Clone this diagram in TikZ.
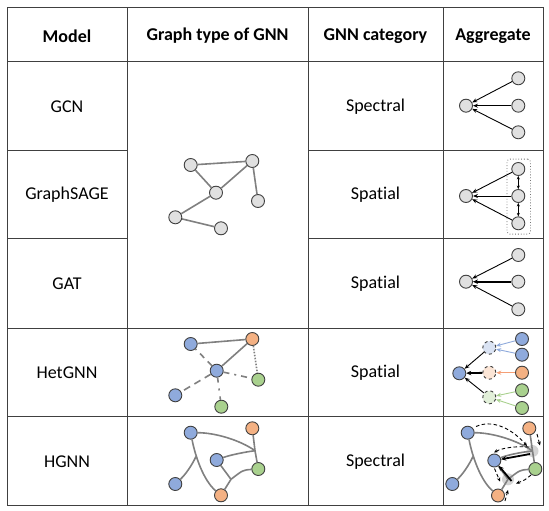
\documentclass[tikz,border=0pt]{standalone}
\usepackage{fontspec}
\setmainfont{Carlito}[Ligatures=NoCommon]
\usetikzlibrary{arrows.meta}
\definecolor{nblue}{HTML}{8FAADC}
\definecolor{norange}{HTML}{F4B183}
\definecolor{ngreen}{HTML}{A9D18E}
\definecolor{lblue}{HTML}{DAE3F3}
\definecolor{lorange}{HTML}{FBE5D6}
\definecolor{lgreen}{HTML}{E2F0D9}
\definecolor{tline}{HTML}{404040}
\definecolor{edgegray}{HTML}{808080}
\definecolor{ngray}{HTML}{E0E0E0}
\tikzset{
  tableline/.style={draw=tline, line width=1pt},
  cell/.style={font=\fontsize{18}{20}\selectfont, inner sep=0pt},
  head/.style={cell, font=\fontsize{18}{20}\selectfont\bfseries},
  vtx/.style={circle, draw=black!75, line width=0.9pt, minimum size=13pt, inner sep=0pt},
  gv/.style={vtx, fill=ngray},
  bv/.style={vtx, fill=nblue},
  ov/.style={vtx, fill=norange},
  grv/.style={vtx, fill=ngreen},
  ge/.style={draw=edgegray, line width=1.6pt},
  agg/.style={draw=black, line width=0.9pt, -{Stealth[length=5pt,width=4pt]}},
  aggthick/.style={draw=black, line width=1.8pt, -{Stealth[length=5pt,width=4.5pt]}},
  dasharr/.style={draw=black, line width=0.9pt, dash pattern=on 3.5pt off 2.5pt, -{Stealth[length=4pt,width=3.5pt]}},
}
\begin{document}
\begin{tikzpicture}[x=1pt,y=-1pt]
\useasboundingbox (0,0) rectangle (549,511);
\fill[white] (0,0) rectangle (549,511);
% ---------- table ----------
\draw[tableline] (7,8) rectangle (543,505);
\draw[tableline] (127,8) -- (127,505) (308,8) -- (308,505) (443,8) -- (443,505);
\draw[tableline] (7,62) -- (543,62) (7,328) -- (543,328) (7,416) -- (543,416);
\draw[tableline] (7,150) -- (127,150) (308,150) -- (543,150);
\draw[tableline] (7,238) -- (127,238) (308,238) -- (543,238);
% ---------- texts ----------
\node[head] (h1) at (67,36) {Model};
\node[head] (h2) at (217.5,36) {Graph type of GNN};
\node[head] (h3) at (375.5,36) {GNN category};
\node[head] (h4) at (493,36) {Aggregate};
\node[cell] (m1) at (67,107) {GCN};
\node[cell] (m2) at (67,195) {GraphSAGE};
\node[cell] (m3) at (67,284) {GAT};
\node[cell] (m4) at (67,373) {HetGNN};
\node[cell] (m5) at (67,461.5) {HGNN};
\node[cell] (c1) at (375.5,107) {Spectral};
\node[cell] (c2) at (375.5,195) {Spatial};
\node[cell] (c3) at (375.5,284) {Spatial};
\node[cell] (c4) at (375.5,373) {Spatial};
\node[cell] (c5) at (375.5,461.5) {Spectral};
% ---------- homogeneous graph ----------
\node[gv] (ga) at (190.7,165) {};
\node[gv] (gb) at (252.3,161) {};
\node[gv] (gc) at (216,192.7) {};
\node[gv] (gd) at (258,201) {};
\node[gv] (ge) at (175.3,217.3) {};
\node[gv] (gf) at (221,228.3) {};
\draw[ge] (ga) -- (gb) (ga) -- (gc) (gb) -- (gc) (gb) -- (gd) (gc) -- (ge) (ge) -- (gf);
% ---------- GCN aggregate ----------
\node[gv] (gcnC) at (466,105.7) {};
\node[gv] (gcn1) at (518.3,78.3) {};
\node[gv] (gcn2) at (518.3,105.7) {};
\node[gv] (gcn3) at (518.3,132.3) {};
\draw[agg] (gcn1) -- (gcnC);
\draw[agg] (gcn2) -- (gcnC);
\draw[agg] (gcn3) -- (gcnC);
% ---------- GraphSAGE aggregate ----------
\node[draw=black!55, dotted, line width=0.8pt, rounded corners=3pt, minimum width=23.5pt, minimum height=75pt, inner sep=0pt] (sbox) at (518.8,196.6) {};
\node[gv] (sC) at (466,196) {};
\node[gv] (s1) at (518.3,169) {};
\node[gv] (s2) at (518.3,196) {};
\node[gv] (s3) at (518.3,223.3) {};
\draw[agg] (s1) -- (sC);
\draw[agg] (s2) -- (sC);
\draw[agg] (s3) -- (sC);
\draw[draw=black, line width=0.9pt, {Stealth[length=3.5pt,width=3pt]}-{Stealth[length=3.5pt,width=3pt]}] (s1) -- (s2);
\draw[draw=black, line width=0.9pt, {Stealth[length=3.5pt,width=3pt]}-{Stealth[length=3.5pt,width=3pt]}] (s2) -- (s3);
% ---------- GAT aggregate ----------
\node[gv] (tC) at (466,281.7) {};
\node[gv] (t1) at (518.3,255) {};
\node[gv] (t2) at (518.3,281.7) {};
\node[gv] (t3) at (518.3,309.3) {};
\draw[agg] (t1) -- (tC);
\draw[aggthick] (t2) -- (tC);
\draw[agg] (t3) -- (tC);
% ---------- HetGNN graph ----------
\node[bv] (hb1) at (190.7,344) {};
\node[ov] (ho) at (252.3,339) {};
\node[bv] (hc) at (216.7,370.7) {};
\node[grv] (hg1) at (258.3,379.7) {};
\node[bv] (hb2) at (175.3,395.3) {};
\node[grv] (hg2) at (221.3,406.7) {};
\draw[ge] (hb1) -- (ho);
\draw[ge] (ho) -- (hc);
\draw[ge, dash pattern=on 1.5pt off 1.5pt] (ho) -- (hg1);
\draw[ge, dash pattern=on 6pt off 5pt] (hc) -- (hb1);
\draw[ge, dash pattern=on 7pt off 5pt] (hc) -- (hb2);
\draw[ge, dash pattern=on 6pt off 5pt on 2pt off 5pt] (hc) -- (hg1);
\draw[ge, dash pattern=on 5pt off 6pt on 2pt off 6pt] (hc) -- (hg2);
% ---------- HetGNN aggregate ----------
\node[bv] (aT) at (459.3,373.3) {};
\node[vtx, fill=lblue, dashed] (aiB) at (489.3,347.7) {};
\node[vtx, fill=lorange, dashed] (aiO) at (489.3,372.7) {};
\node[vtx, fill=lgreen, dashed] (aiG) at (489.3,397.3) {};
\node[bv] (arB1) at (522,339) {};
\node[bv] (arB2) at (522,354.7) {};
\node[ov] (arO) at (522,372.7) {};
\node[grv] (arG1) at (522,390.3) {};
\node[grv] (arG2) at (522,408) {};
\draw[agg, draw=nblue] (arB1) -- (aiB);
\draw[agg, draw=nblue] (arB2) -- (aiB);
\draw[agg, draw=norange!90!red] (arO) -- (aiO);
\draw[agg, draw=ngreen] (arG1) -- (aiG);
\draw[agg, draw=ngreen] (arG2) -- (aiG);
\draw[agg] (aiB) -- (aT);
\draw[aggthick] (aiO) -- (aT);
\draw[agg] (aiG) -- (aT);
% ---------- HGNN graph ----------
\coordinate (pJ1) at (255,450.7);
\coordinate (pJ2) at (196,456.5);
\coordinate (pJ3) at (231,479.3);
\node[bv] (pb1) at (190.7,432.7) {};
\node[ov] (po1) at (252.3,428.3) {};
\node[bv] (pb2) at (216.7,460) {};
\node[grv] (pg) at (258.3,469) {};
\node[bv] (pb3) at (175.3,484) {};
\node[ov] (po2) at (221,495.3) {};
\draw[ge] (pb1) .. controls (215,432.7) and (240,440) .. (pJ1);
\draw[ge] (po1) -- (pJ1) -- (pg);
\draw[ge] (pb2) .. controls (230,455) and (245,452) .. (pJ1);
\draw[ge] (pb1) .. controls (195,455) and (203,480) .. (po2);
\draw[ge] (pb3) .. controls (186,474) and (192,465) .. (pJ2);
\draw[ge] (pb2) -- (pJ3);
\draw[ge] (pg) .. controls (243,470) .. (pJ3);
\draw[ge] (pJ3) -- (po2);
% ---------- HGNN aggregate ----------
\coordinate (qJ1) at (532.5,451);
\coordinate (qJ2) at (473,456.5);
\coordinate (qJ3) at (508,479.3);
\fill[black!30, opacity=0.55] (qJ1) circle (6pt);
\fill[black!30, opacity=0.55] (qJ3) circle (6pt);
\node[bv] (qb1) at (467.7,432.7) {};
\node[ov] (qo1) at (529.3,428.3) {};
\node[bv] (qb2) at (494.3,460.5) {};
\node[grv] (qg) at (535.3,469) {};
\node[bv] (qb3) at (452.3,484) {};
\node[ov] (qo2) at (498,495.5) {};
\draw[ge] (qb1) .. controls (492,432.7) and (517,440) .. (qJ1);
\draw[ge] (qo1) -- (qJ1) -- (qg);
\draw[ge] (qb2) .. controls (507,455) and (522,452) .. (qJ1);
\draw[ge] (qb1) .. controls (472,455) and (480,480) .. (qo2);
\draw[ge] (qb3) .. controls (463,474) and (469,465) .. (qJ2);
\draw[ge] (qb2) -- (qJ3);
\draw[ge] (qg) .. controls (520,470) .. (qJ3);
\draw[ge] (qJ3) -- (qo2);
% dashed message arrows
\coordinate (da1s) at (476,426.5);
\coordinate (da1e) at (527,446);
\coordinate (da2s) at (537,434);
\coordinate (da2e) at (540,445.5);
\coordinate (da3s) at (529,447);
\coordinate (da3e) at (494,452.5);
\coordinate (da4s) at (494.5,468.5);
\coordinate (da4e) at (500,481.5);
\coordinate (da5s) at (531,475);
\coordinate (da5e) at (516,483.5);
\coordinate (da6s) at (505,501);
\coordinate (da6e) at (508,490);
\draw[dasharr] (da1s) .. controls (495,418) and (515,432) .. (da1e);
\draw[dasharr] (da2s) -- (da2e);
\draw[dasharr] (da3s) .. controls (515,446) and (502,448) .. (da3e);
\draw[dasharr] (da4s) -- (da4e);
\draw[dasharr] (da5s) .. controls (525,480) .. (da5e);
\draw[dasharr] (da6s) -- (da6e);
% solid aggregation arrows
\coordinate (sa1) at (530,454);
\coordinate (sa2) at (511.5,481);
\draw[aggthick] (sa1) -- (qb2);
\draw[aggthick] (sa2) -- (qb2);
\end{tikzpicture}
\end{document}
